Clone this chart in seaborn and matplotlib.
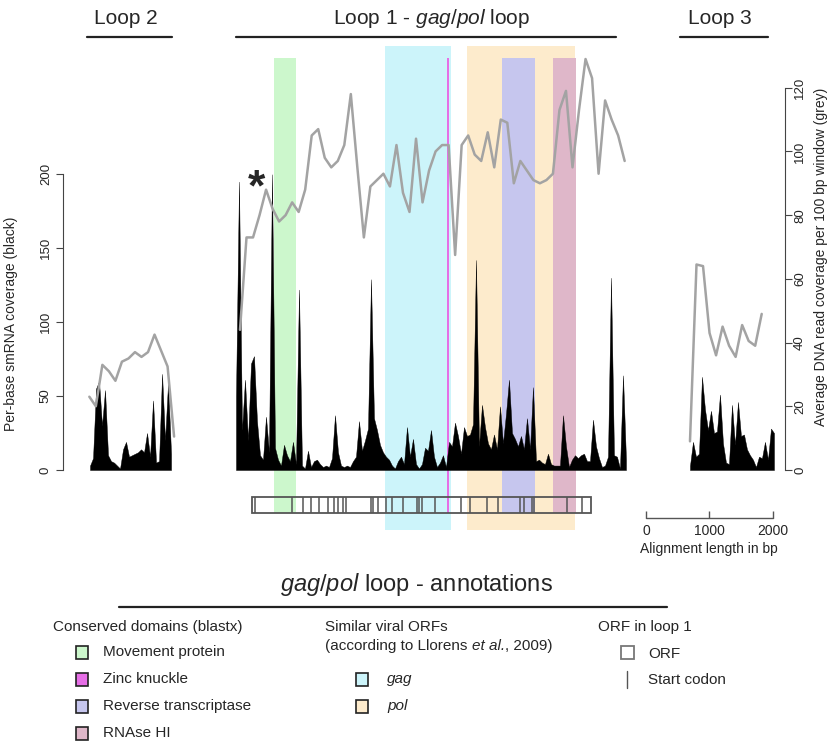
import numpy as np
import matplotlib
matplotlib.use("Agg")
import matplotlib.pyplot as plt
from matplotlib.patches import Rectangle
from matplotlib import font_manager
import seaborn as sns

# ---- data ----
# per-base smRNA coverage (black), sampled along each loop
loop2_smrna = [3, 8, 55, 60, 30, 54, 10, 6, 5, 3, 1, 14, 19, 9, 10, 11, 12, 14, 12, 25,
               9, 47, 5, 6, 65, 20, 59, 11]
loop1_smrna = [50, 195, 27, 61, 20, 72, 77, 33, 10, 7, 36, 12, 200, 15, 7, 3, 17, 10, 6, 19,
               4, 122, 3, 1, 13, 2, 6, 7, 4, 2, 3, 2, 8, 37, 12, 3, 2, 3, 2, 6,
               9, 33, 13, 20, 28, 129, 35, 27, 17, 12, 9, 7, 3, 1, 6, 9, 4, 29, 9, 21,
               4, 1, 4, 15, 13, 27, 9, 2, 5,
               10, 2, 19, 16, 32, 23, 11, 29, 23, 24, 31, 142, 16, 44, 29, 18, 14, 24, 14, 43,
               18, 38, 61, 25, 21, 16, 23, 14, 35, 14, 56, 6, 7, 5, 4, 11, 4, 3, 3, 3,
               37, 16, 2, 7, 10, 8, 10, 11, 6, 6, 34, 16, 8, 2, 3, 9, 130, 10, 9, 1,
               64, 7]
loop3_smrna = [3, 19, 9, 11, 63, 41, 27, 40, 25, 26, 51, 18, 5, 4, 44, 17, 46, 23, 24, 14,
               10, 7, 2, 9, 8, 19, 7, 28, 25]

# average DNA read coverage per 100 bp window (grey)
loop2_dna = [23, 20, 33, 31, 28, 34, 35, 37, 35.5, 37, 42.5, 37.5, 32.5, 10.5]
loop1_dna = [44, 73, 73, 80, 88, 82, 78, 80, 84, 81,
             88, 105, 107, 98, 95, 97, 102, 118, 95, 73,
             89, 91, 93, 89, 102, 87, 81, 104, 84, 94,
             100, 102, 102, 67.5, 102, 105, 99, 97, 106, 95,
             110, 109, 90, 97, 94, 91, 90, 91, 93, 113,
             119, 95, 113, 129, 123, 93, 116, 110, 105, 97]
loop3_dna = [9, 64.5, 64, 43, 36, 45, 39, 35.5, 45.5, 40.5, 39, 49]

# loop lengths (bp)
loop_len = {"loop2": 1280, "loop1": 6161, "loop3": 1327}

# annotations on loop 1 (bp from loop start)
domain_names = ["Movement protein", "Zinc knuckle", "Reverse transcriptase", "RNAse HI"]
domain_start = [608, 3329, 4197, 5013]
domain_end = [943, 3370, 4728, 5367]
domain_colors = ["#ccf7cc", "#e66ee6", "#c6c6ee", "#dfb7c9"]

viral_names = ["gag", "pol"]
viral_start = [2354, 3645]
viral_end = [3397, 5363]
viral_colors = ["#ccf4fa", "#fdebcc"]

orf_span = [248, 5608]
start_codons = [300, 885, 1058, 1185, 1311, 1453, 1548, 1611, 1690, 1738,
                2133, 2172, 2251, 2370, 2464, 2638, 2852, 2891, 2938, 3144,
                3555, 3697, 3965, 4139, 4487, 4542, 4676, 4700, 5229, 5466]

scale_ticks = [0, 1000, 2000]

# ---- layout ----
W, H = 833, 741
PX_PER_BP = 0.0633
WIN = 103  # grey window step in bp
off = {"loop2": 427, "loop1": 2733, "loop3": 9905}
dna_first = {"loop2": -11, "loop1": 63, "loop3": 0}

sns.set_style("white")
NARROW = "Liberation Sans Narrow"
try:
    font_manager.findfont(NARROW, fallback_to_default=False)
except Exception:
    NARROW = "Liberation Sans"
plt.rcParams["font.family"] = ["Liberation Sans", "DejaVu Sans"]
plt.rcParams["mathtext.fontset"] = "custom"
plt.rcParams["mathtext.rm"] = NARROW
plt.rcParams["mathtext.it"] = NARROW + ":italic"
nfam = [NARROW, "DejaVu Sans"]

fig = plt.figure(figsize=(W / 100, H / 100), dpi=100)
fig.patch.set_facecolor("white")

# background: x in bp (same scale as main axes), y in pixels
bg = fig.add_axes([0, 0, 1, 1])
bg.set_xlim(-63 / PX_PER_BP, (W - 63) / PX_PER_BP)
bg.set_ylim(H, 0)
bg.axis("off")

L1 = off["loop1"]
for s, e, c in zip(viral_start, viral_end, viral_colors):
    bg.add_patch(Rectangle((L1 + s, 46), e - s, 530 - 46, fc=c, lw=0))
for s, e, c in zip(domain_start, domain_end, domain_colors):
    bg.add_patch(Rectangle((L1 + s, 58), e - s, 513 - 58, fc=c, lw=0))

# ORF track
bg.add_patch(Rectangle((L1 + orf_span[0], 497), orf_span[1] - orf_span[0], 16,
                       fill=False, ec="#555555", lw=1.3))
bg.vlines([L1 + p for p in start_codons], 497, 513, color="#555555", lw=1.1)

# scale bar
x0 = (646 - 63) / PX_PER_BP
bg.plot([x0 + scale_ticks[0], x0 + scale_ticks[-1]], [518, 518], color="#555555", lw=1)
bg.vlines([x0 + t for t in scale_ticks], 511, 518, color="#555555", lw=1)
for t in scale_ticks:
    bg.text(x0 + t, 531, str(t), ha="center", va="center", fontsize=10)
bg.text(x0 + 1000, 549, "Alignment length in bp", ha="center", va="center", fontsize=10)

# main axes
ax = fig.add_axes([63 / W, 1 - 470 / H, 722 / W, 382.3 / H])
ax.set_facecolor("none")
ax.set_xlim(0, 722 / PX_PER_BP)
ax.set_ylim(0, 200 * 382.3 / 295.7)

smrna = {"loop2": loop2_smrna, "loop1": loop1_smrna, "loop3": loop3_smrna}
dna = {"loop2": loop2_dna, "loop1": loop1_dna, "loop3": loop3_dna}
for k, vals in smrna.items():
    x = off[k] + np.linspace(0, loop_len[k], len(vals))
    ax.fill_between(x, vals, 0, color="black", lw=0.3)

ax2 = ax.twinx()
ax2.set_ylim(0, 120)
for k, vals in dna.items():
    x = off[k] + dna_first[k] + WIN * np.arange(len(vals))
    sns.lineplot(x=x, y=vals, ax=ax2, color="#a3a3a3", lw=1.8, clip_on=False)

for a in (ax, ax2):
    a.set_xticks([])
    a.spines["top"].set_visible(False)
    a.spines["bottom"].set_visible(False)
ax.spines["right"].set_visible(False)
ax2.spines["left"].set_visible(False)
ax.spines["left"].set_bounds(0, 200)
ax2.spines["right"].set_bounds(0, 120)
for sp in (ax.spines["left"], ax2.spines["right"]):
    sp.set_color("#444444")
    sp.set_linewidth(0.8)

ax.set_yticks([0, 50, 100, 150, 200])
ax2.set_yticks(range(0, 121, 20))
ax.tick_params(axis="y", direction="out", length=5, width=0.8, color="#444444",
               pad=3, labelsize=9.5, labelrotation=90)
ax2.tick_params(axis="y", direction="out", length=5, width=0.8, color="#444444",
                pad=1.5, labelsize=9.5, labelrotation=90)
for lab in ax.get_yticklabels() + ax2.get_yticklabels():
    lab.set_va("center")
ax.set_ylabel("Per-base smRNA coverage (black)", fontsize=10)
ax.yaxis.set_label_coords(-0.063, 0.383)
ax2.set_ylabel("Average DNA read coverage per 100 bp window (grey)", fontsize=10,
               rotation=90, va="center", ha="center")
ax2.yaxis.set_label_coords(1.0505, 0.557)

# annotation layer in pixel coordinates
ann = fig.add_axes([0, 0, 1, 1])
ann.set_xlim(0, W)
ann.set_ylim(H, 0)
ann.axis("off")
ann.set_facecolor("none")

ann.text(126, 18, "Loop 2", ha="center", va="center", fontsize=15, family=nfam)
ann.text(432, 18, r"Loop 1 - $\mathit{gag/pol}$ loop", ha="center", va="center", fontsize=15, family=nfam)
ann.text(720, 18, "Loop 3", ha="center", va="center", fontsize=15, family=nfam)
for a_, b_ in [(87, 172), (236, 616), (680, 768)]:
    ann.plot([a_, b_], [37, 37], color="#222222", lw=1.6)
ann.text(256, 189, "*", ha="center", va="center", fontsize=32, fontweight="bold")

ann.text(416, 585, r"$\mathit{gag/pol}$ loop - annotations", ha="center", va="center",
         fontsize=17, family=nfam)
ann.plot([119, 667], [607, 607], color="#222222", lw=1.6)

ann.text(53, 627, "Conserved domains (blastx)", ha="left", va="center", fontsize=11, family=nfam)
for i, (name, c) in enumerate(zip(domain_names, domain_colors)):
    y = 652 + 27 * i
    ann.add_patch(Rectangle((76, y - 6.5), 12, 13, fc=c, ec="#222222", lw=1.2))
    ann.text(103, y, name, ha="left", va="center", fontsize=11, family=nfam)

ann.text(325, 627, "Similar viral ORFs", ha="left", va="center", fontsize=11, family=nfam)
t1 = ann.text(325, 646, "(according to Llorens ", ha="left", va="baseline",
              fontsize=11, family=nfam)
t1.set_position((325, 650))
t2 = ann.annotate("et al.", xy=(1, 0), xycoords=t1, ha="left", va="bottom",
                  fontsize=11, family=nfam, style="italic")
ann.annotate(", 2009)", xy=(1, 0), xycoords=t2, ha="left", va="bottom",
             fontsize=11, family=nfam)
for i, (name, c) in enumerate(zip(viral_names, viral_colors)):
    y = 679 + 27 * i
    ann.add_patch(Rectangle((356, y - 6.5), 12, 13, fc=c, ec="#222222", lw=1.2))
    ann.text(387, y, name, ha="left", va="center", fontsize=11, family=nfam, style="italic")

ann.text(598, 627, "ORF in loop 1", ha="left", va="center", fontsize=11, family=nfam)
ann.add_patch(Rectangle((621, 646), 13, 13, fill=False, ec="#777777", lw=1.3))
ann.text(648, 654, "ORF", ha="left", va="center", fontsize=11, family=nfam)
ann.plot([627, 627], [671, 688], color="#555555", lw=1)
ann.text(648, 680, "Start codon", ha="left", va="center", fontsize=11, family=nfam)

fig.savefig("out.png", dpi=100)
